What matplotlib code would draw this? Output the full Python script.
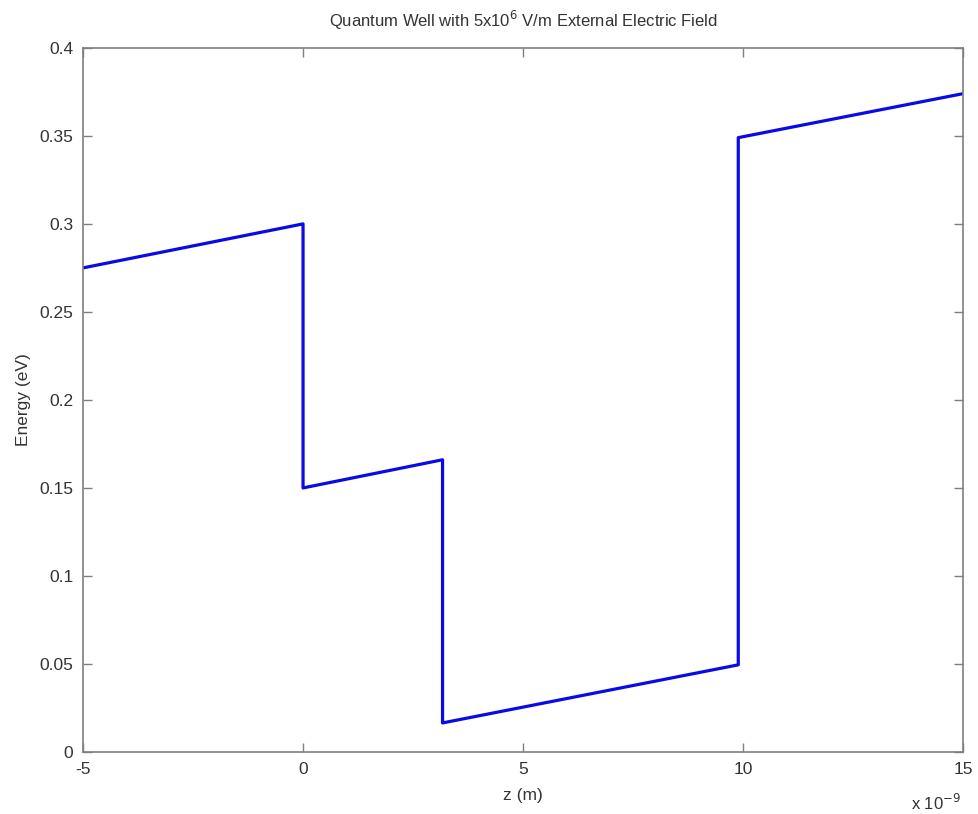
import matplotlib
matplotlib.use("Agg")
import matplotlib.pyplot as plt
from matplotlib.ticker import FuncFormatter

# Conduction band profile (z in nm, energy in eV)
z_nm = [-5, 0, 0, 3.17, 3.17, 9.89, 9.89, 15]
energy_ev = [0.275, 0.300, 0.150, 0.166, 0.0165, 0.0495, 0.349, 0.374]

x_ticks = [-5, 0, 5, 10, 15]
y_ticks = [0, 0.05, 0.1, 0.15, 0.2, 0.25, 0.3, 0.35, 0.4]

plt.rcParams['font.family'] = ['Liberation Sans', 'DejaVu Sans']

fig = plt.figure(figsize=(9.79, 8.14), dpi=100)
ax = fig.add_axes([0.0848, 0.0762, 0.899, 0.865])

ax.plot(z_nm, energy_ev, color="#0a0ae6", linewidth=2.3)

ax.set_xlim(-5, 15)
ax.set_ylim(0, 0.4)
ax.set_xticks(x_ticks)
ax.set_yticks(y_ticks)
ax.yaxis.set_major_formatter(FuncFormatter(lambda v, p: "%g" % v))
ax.xaxis.set_major_formatter(FuncFormatter(lambda v, p: "%g" % v))

text_color = "#333333"
axis_color = "#7f7f7f"
for s in ax.spines.values():
    s.set_color(axis_color)
    s.set_linewidth(1.2)
ax.tick_params(direction="in", length=6.5, width=1, color=axis_color,
               top=True, right=True, labelsize=12.5, labelcolor=text_color, pad=7)

ax.set_title(r"Quantum Well with 5x10$^{6}$ V/m External Electric Field",
             fontsize=12, color=text_color, pad=15)
ax.set_xlabel("z (m)", fontsize=12.5, color=text_color, labelpad=8)
ax.set_ylabel("Energy (eV)", fontsize=12.5, color=text_color, labelpad=6)
ax.text(0.997, -0.072, r"x 10$^{-9}$", transform=ax.transAxes, fontsize=12,
        color=text_color, ha="right", va="center")

fig.savefig("out.png", dpi=100, facecolor="white")
